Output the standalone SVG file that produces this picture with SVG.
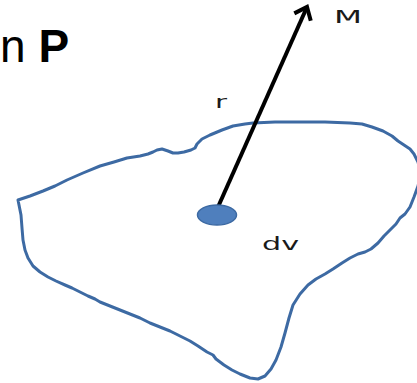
<svg xmlns="http://www.w3.org/2000/svg" width="417" height="383" viewBox="0 0 417 383">
  <style>
    .blob { fill: none; stroke: #3d6aa3; stroke-width: 3; stroke-linejoin: round; stroke-linecap: round; }
    .lbl { font-family: "DejaVu Sans", "Liberation Sans", sans-serif; font-size: 18px; fill: #1a1a1a; }
    .title { font-family: "Liberation Sans", Arial, sans-serif; font-size: 46px; fill: #000; }
    .vec { stroke: #000; stroke-width: 4; fill: none; }
  </style>
  <defs>
    <marker id="chev" markerUnits="userSpaceOnUse" markerWidth="30" markerHeight="30" viewBox="-15 -15 30 30" refX="0" refY="0" orient="auto">
      <path d="M-11,-9 L0,0 L-11,9" fill="none" stroke="#000" stroke-width="4" stroke-linejoin="miter"/>
    </marker>
  </defs>
  <rect width="417" height="383" fill="#fff"/>
  <g id="title">
    <text class="title" x="0" y="62">n <tspan font-weight="bold">P</tspan></text>
  </g>
  <g id="volume">
    <polygon class="blob" points="18,200 30,196 43,191 55,186 67,180 83,173 100,166 114,162 127,158 140,156 148,154 153,152 157,150 162,149 168,151 173,153 178,153 184,152 191,150 195,148 197,144 202,139 210,135 222,130 233,126 245,124 253,123 275,122 300,122 325,122 350,123 362,124 372,127 383,131 392,136 398,141 404,145 410,149 414,154 418,162 421,174 418,186 414,197 410,207 405,214 400,218 396,224 390,230 384,236 378,243 371,249 365,252 358,254 350,258 342,263 333,269 325,274 316,279 308,285 300,294 293,305 289,318 285,333 281,347 276,360 271,369 265,376 258,379 250,378 240,374 232,370 224,365 216,359 213,355 207,352 198,346 190,341 180,336 170,331 160,327 150,323 140,318 130,314 120,310 110,306 100,302 95,299 88,296 80,292 72,288 65,285 56,281 48,277 40,272 33,266 28,258 25,250 23,240 22,228 21,215"/>
  </g>
  <g id="connectors">
    <line class="vec" x1="218" y1="207" x2="307" y2="7" marker-end="url(#chev)"/>
  </g>
  <g id="dv-element">
    <ellipse cx="217" cy="215" rx="19.5" ry="10" fill="#4f7fbd" stroke="#3d6aa3" stroke-width="1.5"/>
  </g>
  <g id="labels">
    <text class="lbl" x="334" y="23" textLength="28" lengthAdjust="spacingAndGlyphs">M</text>
    <text class="lbl" x="215" y="108" textLength="12" lengthAdjust="spacingAndGlyphs">r</text>
    <text class="lbl" x="262" y="250" textLength="37" lengthAdjust="spacingAndGlyphs">dv</text>
  </g>
</svg>
